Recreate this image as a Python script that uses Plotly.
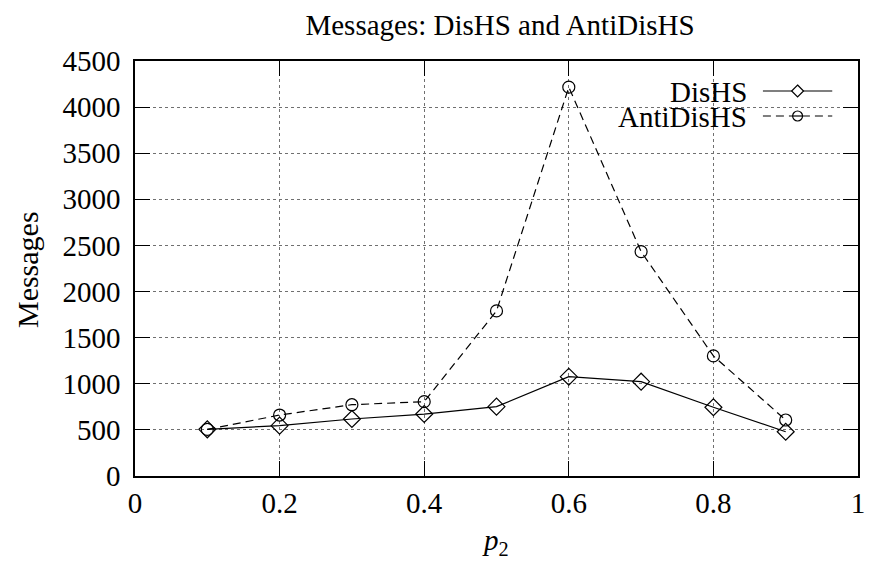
import plotly.graph_objects as go

p2 = [0.1, 0.2, 0.3, 0.4, 0.5, 0.6, 0.7, 0.8, 0.9]
dishs = [506, 546, 618, 672, 752, 1077, 1023, 745, 480]
antidishs = [505, 661, 773, 806, 1790, 4216, 2433, 1302, 607]
x_ticks = [0, 0.2, 0.4, 0.6, 0.8, 1]
x_tick_labels = ["0", "0.2", "0.4", "0.6", "0.8", "1"]
y_ticks = [0, 500, 1000, 1500, 2000, 2500, 3000, 3500, 4000, 4500]
y_tick_labels = [str(v) for v in y_ticks]
series_names = ["DisHS", "AntiDisHS"]

FONT = "Liberation Serif, Times New Roman, serif"
FS = 29
OFF = 8  # browser body margin
# figure size and plot area, in page pixels
W, H = 874 - OFF, 563 - OFF
PL, PR, PT, PB = 135, 865, 61, 476  # plot area edges in page pixels
L = PL - OFF
T = PT - OFF
R = W - (PR - OFF)
B = H - (PB - OFF)
PW, PH = PR - PL, PB - PT


def px(x):
    return (x - PL) / PW


def py(y):
    return (PB - y) / PH


DASH = "8px,5px"

fig = go.Figure()
fig.add_trace(go.Scatter(
    x=p2, y=dishs, mode="lines+markers", name=series_names[0],
    line=dict(color="black", width=1.2),
    marker=dict(symbol="diamond-open", size=13, color="black", line=dict(width=1.2)),
    showlegend=False))
fig.add_trace(go.Scatter(
    x=p2, y=antidishs, mode="lines+markers", name=series_names[1],
    line=dict(color="black", width=1.2, dash=DASH),
    marker=dict(symbol="circle-open", size=12, color="black", line=dict(width=1.2)),
    showlegend=False))

axis_common = dict(
    showline=True, linecolor="black", linewidth=1.5, mirror="allticks",
    ticks="inside", ticklen=15, tickwidth=1.2, tickcolor="black",
    showgrid=True, gridcolor="#707070", griddash="dot", gridwidth=1,
    zeroline=False, tickfont=dict(family=FONT, size=FS, color="black"),
)

fig.update_xaxes(range=[0, 1], tickvals=x_ticks, ticktext=x_tick_labels,
                 ticklabelstandoff=0, **axis_common)
fig.update_yaxes(range=[0, 4500], tickvals=y_ticks, ticktext=y_tick_labels,
                 ticklabelstandoff=7, **axis_common)

shapes = []
annotations = []
# axis titles
annotations.append(dict(text="<i>p</i><sub>2</sub>", xref="paper", yref="paper",
                        x=px(499), y=py(542), xanchor="center", yanchor="middle",
                        showarrow=False, font=dict(family=FONT, size=FS, color="black")))
annotations.append(dict(text="Messages", xref="paper", yref="paper", textangle=-90,
                        x=px(26), y=py(270), xanchor="center", yanchor="middle",
                        showarrow=False, font=dict(family=FONT, size=FS + 1, color="black")))
# legend box (white background covering grid)
shapes.append(dict(type="rect", xref="paper", yref="paper",
                   x0=px(607), x1=px(858), y0=py(129), y1=py(78),
                   fillcolor="white", line=dict(width=0), layer="between"))
legend_rows = [(91, "solid", "diamond"), (116, "dash", "circle")]
for name, (yc, dash, sym) in zip(series_names, legend_rows):
    annotations.append(dict(text=name, xref="paper", yref="paper", x=px(755), y=py(yc + 1),
                            xanchor="right", yanchor="middle", showarrow=False,
                            font=dict(family=FONT, size=FS, color="black")))
    shapes.append(dict(type="line", xref="paper", yref="paper",
                       x0=px(769), x1=px(839), y0=py(yc), y1=py(yc),
                       line=dict(color="black", width=1.2,
                                 dash="solid" if dash == "solid" else DASH)))
    if sym == "diamond":
        pts = [(804, yc - 6), (810, yc), (804, yc + 6), (798, yc)]
        path = "M " + " L ".join(f"{px(a)},{py(b)}" for a, b in pts) + " Z"
        shapes.append(dict(type="path", xref="paper", yref="paper", path=path,
                           fillcolor="white", line=dict(color="black", width=1.2)))
    else:
        shapes.append(dict(type="circle", xref="paper", yref="paper",
                           x0=px(799), x1=px(809), y0=py(yc + 5), y1=py(yc - 5),
                           fillcolor="white", line=dict(color="black", width=1.2)))
        shapes.append(dict(type="line", xref="paper", yref="paper",
                           x0=px(799), x1=px(809), y0=py(yc), y1=py(yc),
                           line=dict(color="black", width=1.2)))

fig.update_layout(
    width=W, height=H,
    margin=dict(l=L, r=R, t=T, b=B),
    paper_bgcolor="white", plot_bgcolor="white",
    title=dict(text="Messages: DisHS and AntiDisHS", x=((PL + PR) / 2 - OFF) / W, xanchor="center",
               y=1 - 17 / H, yanchor="middle",
               font=dict(family=FONT, size=FS, color="black")),
    font=dict(family=FONT, color="black"),
    shapes=shapes, annotations=annotations,
)

fig.write_html("out.html")
